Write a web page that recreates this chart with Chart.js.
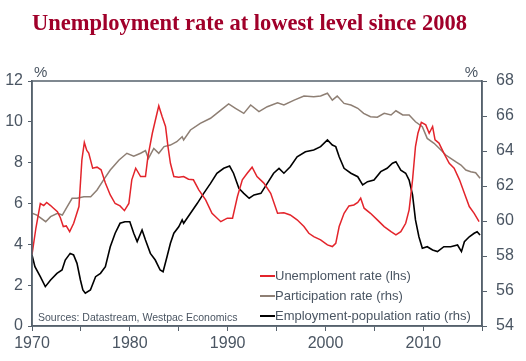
<!DOCTYPE html>
<html lang="en">
<head>
    <meta charset="UTF-8">
    <title>Unemployment rate at lowest level since 2008</title>
    <script src="https://cdn.jsdelivr.net/npm/chart.js"></script>
    <style>
        html, body { margin: 0; padding: 0; background: #fff; }
        #wrap { width: 526px; height: 361px; position: relative; }
    </style>
</head>
<body>
<div id="wrap"><canvas id="chart"></canvas></div>

<script>
    // values
    const urYears = [1970.0, 1970.4, 1970.85, 1971.2, 1971.5, 1971.9, 1972.2, 1972.6, 1972.9, 1973.2, 1973.5, 1973.85,
        1974.26, 1974.8, 1975.1, 1975.35, 1975.6, 1975.8, 1976.2, 1976.65, 1977.06, 1977.5, 1978.0, 1978.5, 1979.0,
        1979.45, 1979.9, 1980.2, 1980.6, 1981.1, 1981.6, 1981.85, 1982.3, 1982.7, 1982.96, 1983.3, 1983.65, 1983.9,
        1984.15, 1984.5, 1985.0, 1985.5, 1986.0, 1986.5, 1987.05, 1987.75, 1988.4, 1989.3, 1989.96, 1990.5, 1991.0,
        1991.5, 1992.0, 1992.5, 1993.0, 1993.7, 1994.4, 1995.1, 1995.75, 1996.4, 1997.1, 1997.8, 1998.3, 1998.8,
        1999.5, 2000.2, 2000.7, 2001.05, 2001.4, 2001.9, 2002.4, 2002.9, 2003.3, 2003.6, 2003.95, 2004.6, 2005.3,
        2006.0, 2006.7, 2007.2, 2007.7, 2008.2, 2008.55, 2008.9, 2009.2, 2009.45, 2009.8, 2010.25, 2010.6, 2010.95,
        2011.2, 2011.6, 2012.1, 2012.65, 2013.15, 2013.7, 2014.2, 2014.7, 2015.2, 2015.7];
    const urValues = [3.5, 4.8, 6.0, 5.9, 6.05, 5.9, 5.77, 5.6, 5.3, 4.87, 4.9, 4.62,
        5.03, 5.85, 8.14, 8.99, 8.6, 8.47, 7.73, 7.78, 7.65, 7.0, 6.42, 6.0, 5.88,
        5.65, 6.0, 7.16, 7.73, 7.32, 7.32, 8.3, 9.44, 10.26, 10.78, 10.26, 9.77, 8.79,
        7.97, 7.32, 7.29, 7.32, 7.19, 7.16, 6.67, 6.18, 5.52, 5.11, 5.28, 5.28, 6.34,
        7.16, 7.48, 7.78, 7.32, 7.0, 6.5, 5.52, 5.55, 5.44, 5.2, 4.87, 4.54, 4.38,
        4.22, 3.97, 3.89, 4.05, 4.87, 5.52, 5.88, 5.93, 6.05, 6.26, 5.77, 5.52, 5.2,
        4.87, 4.62, 4.46, 4.62, 5.03, 5.69, 7.16, 8.79, 9.44, 9.97, 9.85, 9.44, 9.77,
        9.12, 8.96, 8.47, 7.97, 7.73, 7.16, 6.5, 5.85, 5.52, 5.11];

    const prYears = [1970.0, 1970.5, 1971.4, 1971.9, 1972.6, 1973.1, 1973.6, 1974.1, 1974.6, 1975.3, 1976.0, 1976.65,
        1977.3, 1978.0, 1978.9, 1979.7, 1980.4, 1981.1, 1981.6, 1981.9, 1982.45, 1982.96, 1983.5, 1984.15, 1984.8,
        1985.35, 1985.5, 1986.2, 1987.2, 1988.25, 1989.3, 1990.1, 1990.8, 1991.65, 1992.35, 1993.2, 1994.05, 1995.1,
        1995.75, 1996.8, 1997.8, 1998.8, 1999.5, 2000.2, 2000.7, 2001.2, 2001.9, 2002.6, 2003.3, 2003.9, 2004.6,
        2005.3, 2006.0, 2006.7, 2007.2, 2007.9, 2008.55, 2009.2, 2009.9, 2010.4, 2011.1, 2011.8, 2012.3, 2012.8,
        2013.3, 2013.85, 2014.35, 2014.85, 2015.35, 2015.8];
    const prValues = [60.44, 60.34, 59.96, 60.25, 60.44, 60.34, 60.82, 61.3, 61.3, 61.39, 61.39, 61.77,
        62.34, 62.91, 63.49, 63.87, 63.71, 63.87, 64.02, 63.58, 64.15, 63.87, 64.25, 64.34, 64.53,
        64.82, 64.63, 65.2, 65.58, 65.87, 66.34, 66.69, 66.44, 66.15, 66.63, 66.25, 66.53, 66.76,
        66.63, 66.91, 67.14, 67.1, 67.14, 67.3, 66.91, 67.14, 66.72, 66.63, 66.44, 66.15, 65.96,
        65.93, 66.15, 66.06, 66.3, 66.06, 66.06, 65.67, 65.39, 64.72, 64.44, 64.06, 63.77, 63.58,
        63.39, 63.2, 62.91, 62.82, 62.76, 62.44];

    const epYears = [1970.0, 1970.3, 1970.85, 1971.36, 1971.9, 1972.55, 1973.07, 1973.4, 1973.9, 1974.25, 1974.6,
        1974.95, 1975.2, 1975.45, 1975.97, 1976.5, 1977.0, 1977.5, 1978.0, 1978.5, 1979.0, 1979.5, 1980.0, 1980.4,
        1980.75, 1981.25, 1981.6, 1982.1, 1982.6, 1983.1, 1983.4, 1983.8, 1984.15, 1984.5, 1985.0, 1985.35, 1985.5,
        1986.2, 1986.9, 1987.55, 1988.25, 1988.9, 1989.6, 1990.2, 1990.6, 1991.15, 1991.65, 1992.2, 1992.7, 1993.4,
        1994.05, 1994.7, 1995.25, 1995.75, 1996.4, 1997.1, 1997.95, 1998.8, 1999.5, 2000.2, 2000.7, 2001.05, 2001.4,
        2001.9, 2002.6, 2003.3, 2003.8, 2004.3, 2004.96, 2005.65, 2006.3, 2006.85, 2007.2, 2007.7, 2008.2, 2008.55,
        2008.9, 2009.2, 2009.55, 2009.9, 2010.4, 2010.95, 2011.45, 2012.1, 2012.8, 2013.5, 2013.9, 2014.2, 2014.7,
        2015.2, 2015.5, 2015.8];
    const epValues = [58.06, 57.39, 56.82, 56.25, 56.63, 57.01, 57.2, 57.77, 58.15, 58.06, 57.58,
        56.63, 56.06, 55.87, 56.06, 56.82, 57.01, 57.39, 58.53, 59.3, 59.87, 59.96, 59.96, 59.3,
        58.82, 59.49, 58.91, 58.15, 57.77, 57.2, 57.1, 57.96, 58.73, 59.3, 59.67, 60.06, 59.87,
        60.44, 61.01, 61.58, 62.15, 62.73, 63.01, 63.14, 62.73, 61.87, 61.58, 61.3, 61.49, 61.58,
        62.15, 62.73, 63.01, 62.73, 63.1, 63.67, 63.96, 64.06, 64.25, 64.63, 64.34, 64.25, 63.67,
        63.01, 62.73, 62.53, 62.06, 62.25, 62.34, 62.82, 63.01, 63.3, 63.39, 62.91, 62.73, 62.34,
        61.49, 60.06, 59.1, 58.44, 58.53, 58.34, 58.25, 58.53, 58.53, 58.63, 58.25, 58.82, 59.1,
        59.3, 59.39, 59.2];

    const seriesLabels = ['Unemploment rate (lhs)', 'Participation rate (rhs)', 'Employment-population ratio (rhs)'];
    const sourceNote = 'Sources: Datastream, Westpac Economics';

    const axisColor = '#56616c';
    const textColor = '#4a5562';

    const pairs = (xs, ys) => xs.map((x, i) => ({ x: x, y: ys[i] }));

    // box, % units, source note and legend inside the plot
    const extras = {
        id: 'extras',
        afterDatasetsDraw(chart) {
            const ctx = chart.ctx;
            const a = chart.chartArea;
            ctx.save();
            ctx.strokeStyle = axisColor;
            ctx.lineWidth = 1.5;
            ctx.strokeRect(a.left, a.top, a.right - a.left, a.bottom - a.top);

            ctx.fillStyle = textColor;
            ctx.font = '15px "Liberation Sans", Arial, sans-serif';
            ctx.textBaseline = 'bottom';
            ctx.textAlign = 'left';
            ctx.fillText('%', a.left + 2, a.top - 1);
            ctx.textAlign = 'right';
            ctx.fillText('%', a.right - 4, a.top - 1);

            ctx.textAlign = 'left';
            ctx.textBaseline = 'middle';
            ctx.font = '10.5px "Liberation Sans", Arial, sans-serif';
            ctx.fillText(sourceNote, a.left + 6, a.bottom - 8);

            ctx.font = '13px "Liberation Sans", Arial, sans-serif';
            chart.data.datasets.forEach((ds, i) => {
                const y = a.bottom - 50 + i * 20;
                const x0 = a.left + 228;
                ctx.strokeStyle = ds.borderColor;
                ctx.lineWidth = 2;
                ctx.beginPath();
                ctx.moveTo(x0, y);
                ctx.lineTo(x0 + 15, y);
                ctx.stroke();
                ctx.fillStyle = textColor;
                ctx.fillText(ds.label, x0 + 15, y);
            });
            ctx.restore();
        }
    };

    const tickFont = { family: '"Liberation Sans", Arial, sans-serif', size: 16 };

    new Chart(document.getElementById('chart'), {
        type: 'line',
        data: {
            datasets: [{
                label: seriesLabels[0],
                data: pairs(urYears, urValues),
                borderColor: '#e3242b',
                borderWidth: 1.5,
                yAxisID: 'y'
            }, {
                label: seriesLabels[1],
                data: pairs(prYears, prValues),
                borderColor: '#8e7f74',
                borderWidth: 1.5,
                yAxisID: 'y2'
            }, {
                label: seriesLabels[2],
                data: pairs(epYears, epValues),
                borderColor: '#000000',
                borderWidth: 1.6,
                yAxisID: 'y2'
            }]
        },
        options: {
            responsive: true,
            maintainAspectRatio: false,
            animation: false,
            elements: { point: { radius: 0 }, line: { tension: 0 } },
            layout: { padding: { left: 0, right: 0, top: 0, bottom: 0 } },
            plugins: {
                legend: { display: false },
                tooltip: { enabled: false },
                title: {
                    display: true,
                    text: 'Unemployment rate at lowest level since 2008',
                    align: 'start',
                    fullSize: false,
                    color: '#a0002a',
                    font: { family: '"Liberation Serif", "Times New Roman", serif', size: 22.5, weight: 'bold' },
                    padding: { top: 11, bottom: 43 }
                }
            },
            scales: {
                x: {
                    type: 'linear',
                    min: 1970,
                    max: 2016,
                    grid: { drawOnChartArea: false, color: axisColor, tickLength: 5 },
                    border: { color: axisColor, width: 1.5 },
                    ticks: {
                        stepSize: 5,
                        color: textColor,
                        font: tickFont,
                        padding: 3,
                        maxRotation: 0,
                        autoSkip: false,
                        callback: v => (v % 10 === 0 ? String(v) : '')
                    },
                    afterFit: s => { s.height = 35; }
                },
                y: {
                    position: 'left',
                    min: 0,
                    max: 12,
                    grid: { drawOnChartArea: false, color: axisColor, tickLength: 4 },
                    border: { color: axisColor, width: 1.5 },
                    ticks: { stepSize: 2, color: textColor, font: tickFont, padding: 5 },
                    afterFit: s => { s.width = 32; }
                },
                y2: {
                    position: 'right',
                    min: 54,
                    max: 68,
                    grid: { drawOnChartArea: false, color: axisColor, tickLength: 5 },
                    border: { color: axisColor, width: 1.5 },
                    ticks: { stepSize: 2, color: textColor, font: tickFont, padding: 9 },
                    afterFit: s => { s.width = 44; }
                }
            }
        },
        plugins: [extras]
    });
</script>
</body>
</html>
